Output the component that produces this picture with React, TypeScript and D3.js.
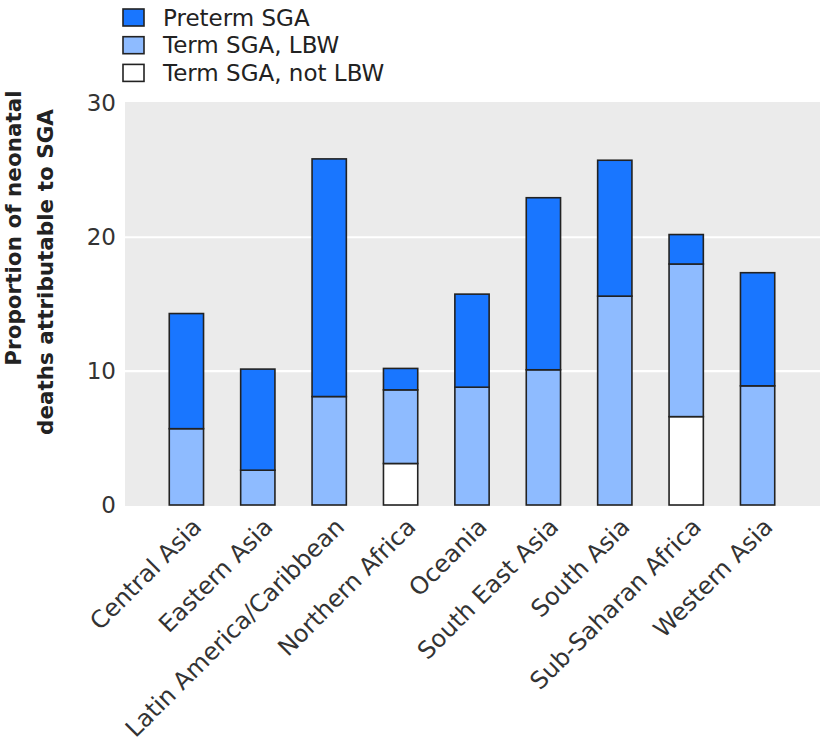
import React from "react";
import * as d3 from "d3";

const regions = [
  "Central Asia",
  "Eastern Asia",
  "Latin America/Caribbean",
  "Northern Africa",
  "Oceania",
  "South East Asia",
  "South Asia",
  "Sub-Saharan Africa",
  "Western Asia",
];
const termNotLBW = [0, 0, 0, 3.1, 0, 0, 0, 6.6, 0];
const termLBW = [5.7, 2.6, 8.1, 5.5, 8.8, 10.1, 15.6, 11.4, 8.9];
const pretermSGA = [8.6, 7.55, 17.75, 1.6, 6.95, 12.85, 10.15, 2.2, 8.45];
const yTicks = [0, 10, 20, 30];
const seriesKeys = ["notLBW", "LBW", "preterm"];
const seriesLabels = ["Term SGA, not LBW", "Term SGA, LBW", "Preterm SGA"];
const seriesColors = ["#FFFFFF", "#8EBBFF", "#1976FF"];
const legendOrder = [2, 1, 0];
const yTitleLines = ["Proportion of neonatal", "deaths attributable to SGA"];

const W = 820;
const H = 744;
const FONT = "'DejaVu Sans', 'Open Sans', sans-serif";

export default function App() {
  const panel = { left: 125, right: 820, top: 102, bottom: 506 };
  const x = d3
    .scaleBand<string>()
    .domain(regions)
    .range([panel.left, 819])
    .paddingInner(0.52)
    .paddingOuter(0.62);
  const y = d3.scaleLinear().domain([0, 30.1]).range([505, panel.top]);

  const rows = regions.map((r, i) => ({
    region: r,
    notLBW: termNotLBW[i],
    LBW: termLBW[i],
    preterm: pretermSGA[i],
  }));
  const stacked = d3.stack<any>().keys(seriesKeys)(rows);

  return (
    <svg
      width={W}
      height={H}
      style={{ position: "absolute", left: 0, top: 0, background: "#fff" }}
      fontFamily={FONT}
    >
      <rect
        x={panel.left}
        y={panel.top}
        width={panel.right - panel.left}
        height={panel.bottom - panel.top}
        fill="#EBEBEB"
      />
      {yTicks
        .filter((t) => t > 0 && t < 30)
        .map((t) => (
          <line
            key={"g" + t}
            x1={panel.left}
            x2={panel.right}
            y1={y(t)}
            y2={y(t)}
            stroke="#fff"
            strokeWidth={2.2}
          />
        ))}
      {yTicks.map((t) => (
        <text
          key={"t" + t}
          x={116}
          y={y(t)}
          textAnchor="end"
          dominantBaseline="central"
          fontSize={23}
          fill="#333"
        >
          {t}
        </text>
      ))}
      {stacked.map((s, si) =>
        s.map((d, i) =>
          d[1] - d[0] > 0 ? (
            <rect
              key={si + "-" + i}
              x={x(regions[i])!}
              y={y(d[1])}
              width={x.bandwidth()}
              height={y(d[0]) - y(d[1])}
              fill={seriesColors[si]}
              stroke="#222"
              strokeWidth={1.6}
            />
          ) : null
        )
      )}
      {regions.map((r) => {
        const cx = x(r)! + x.bandwidth() / 2;
        return (
          <text
            key={"x" + r}
            transform={`translate(${cx + 4},${516}) rotate(-45)`}
            textAnchor="end"
            dominantBaseline="hanging"
            fontSize={24}
            fill="#333"
          >
            {r}
          </text>
        );
      })}
      <text
        transform={`translate(21,228) rotate(-90)`}
        textAnchor="middle"
        fontSize={21.5}
        fontWeight="bold"
        fill="#222"
      >
        {yTitleLines[0]}
      </text>
      <text
        transform={`translate(53,272) rotate(-90)`}
        textAnchor="middle"
        fontSize={21.5}
        fontWeight="bold"
        fill="#222"
      >
        {yTitleLines[1]}
      </text>
      {legendOrder.map((si, k) => {
        const ry = 9 + k * 27.7;
        return (
          <g key={"l" + si}>
            <rect
              x={123}
              y={ry}
              width={21}
              height={17}
              fill={seriesColors[si]}
              stroke="#222"
              strokeWidth={1.6}
            />
            <text
              x={163}
              y={ry + 8.5}
              dominantBaseline="central"
              fontSize={23}
              fill="#222"
            >
              {seriesLabels[si]}
            </text>
          </g>
        );
      })}
    </svg>
  );
}
